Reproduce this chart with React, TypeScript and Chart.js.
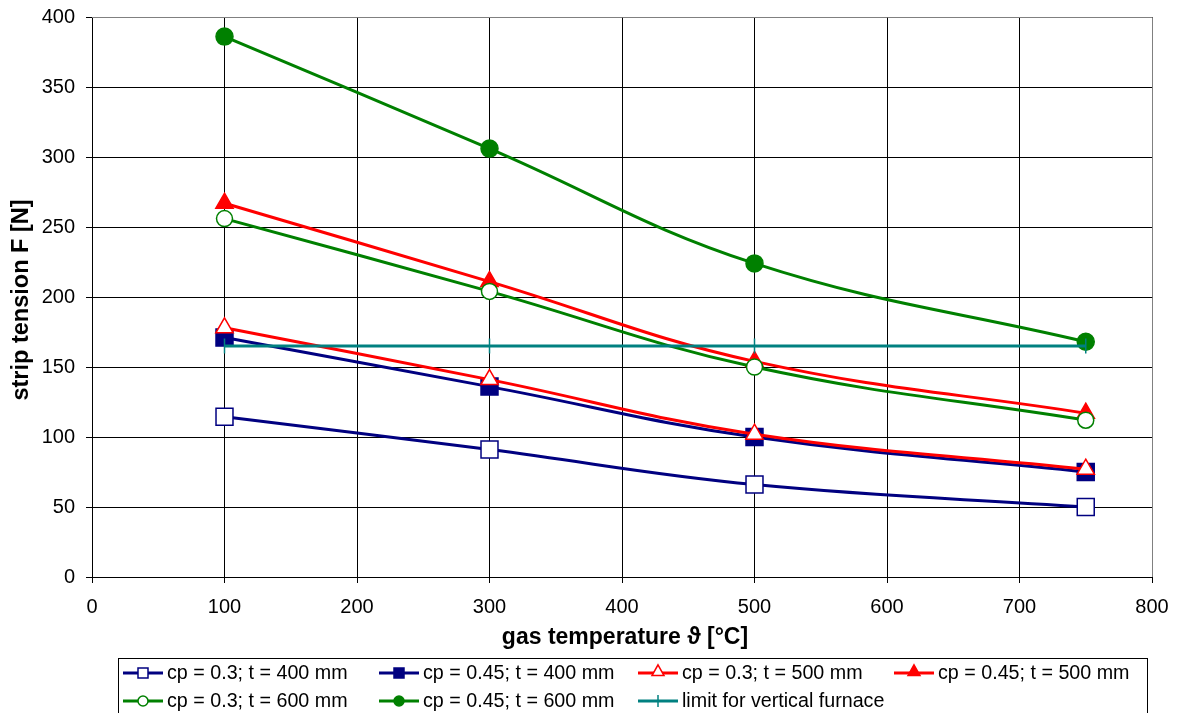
import React, { useEffect, useRef } from "react";
import { Chart, registerables } from "chart.js";
Chart.register(...registerables);

const temperatures = [100, 300, 500, 750];
const cp03t400 = [114.5, 91, 66, 50];
const cp045t400 = [171, 136, 100, 75];
const cp03t500 = [178, 141, 102, 77];
const cp045t500 = [267, 211, 154, 117];
const cp03t600 = [256, 204, 150, 112];
const cp045t600 = [386, 306, 224, 168];
const limitY = [165, 165, 165, 165];
const seriesLabels = [
  "cp = 0.3; t = 400 mm",
  "cp = 0.45; t = 400 mm",
  "cp = 0.3; t = 500 mm",
  "cp = 0.45; t = 500 mm",
  "cp = 0.3; t = 600 mm",
  "cp = 0.45; t = 600 mm",
  "limit for vertical furnace",
];
const xTitle = "gas temperature ϑ [°C]";
const yTitle = "strip tension F [N]";

const NAVY = "#000080";
const RED = "#FF0000";
const GREEN = "#008000";
const TEAL = "#008080";
const FONT = "'Liberation Sans', Arial, sans-serif";

type Sty = { color: string; shape: string; filled: boolean; r: number };
const styles: Sty[] = [
  { color: NAVY, shape: "rect", filled: false, r: 12 },
  { color: NAVY, shape: "rect", filled: true, r: 12 },
  { color: RED, shape: "triangle", filled: false, r: 10 },
  { color: RED, shape: "triangle", filled: true, r: 10 },
  { color: GREEN, shape: "circle", filled: false, r: 8 },
  { color: GREEN, shape: "circle", filled: true, r: 8.5 },
  { color: TEAL, shape: "cross", filled: false, r: 7.5 },
];

function drawMarker(ctx: CanvasRenderingContext2D, s: Sty, x: number, y: number, size: number) {
  ctx.save();
  ctx.strokeStyle = s.color;
  ctx.fillStyle = s.filled ? s.color : "#ffffff";
  ctx.lineWidth = 1.5;
  ctx.beginPath();
  if (s.shape === "rect") {
    ctx.rect(x - size, y - size, size * 2, size * 2);
    ctx.fill();
    ctx.stroke();
  } else if (s.shape === "triangle") {
    ctx.moveTo(x, y - size * 1.2);
    ctx.lineTo(x + size, y + size * 0.6);
    ctx.lineTo(x - size, y + size * 0.6);
    ctx.closePath();
    ctx.fill();
    ctx.stroke();
  } else if (s.shape === "circle") {
    ctx.arc(x, y, size, 0, Math.PI * 2);
    ctx.fill();
    ctx.stroke();
  } else {
    ctx.moveTo(x, y - size);
    ctx.lineTo(x, y + size);
    ctx.stroke();
  }
  ctx.restore();
}

const customPlugin = {
  id: "custom",
  beforeDatasetsDraw(chart: any) {
    const { ctx, chartArea } = chart;
    ctx.save();
    ctx.strokeStyle = "#808080";
    ctx.lineWidth = 1;
    ctx.beginPath();
    ctx.moveTo(chartArea.left, chartArea.top + 0.5);
    ctx.lineTo(chartArea.right + 0.5, chartArea.top + 0.5);
    ctx.lineTo(chartArea.right + 0.5, chartArea.bottom);
    ctx.stroke();
    ctx.restore();
  },
  afterDraw(chart: any) {
    const { ctx } = chart;
    ctx.save();
    ctx.fillStyle = "#000";
    ctx.font = `bold 23px ${FONT}`;
    ctx.textAlign = "center";
    ctx.textBaseline = "middle";
    ctx.fillText(xTitle, 625, 638);
    ctx.save();
    ctx.translate(22, 300);
    ctx.rotate(-Math.PI / 2);
    ctx.font = `bold 23.5px ${FONT}`;
    ctx.fillText(yTitle, 0, 0);
    ctx.restore();

    // legend
    ctx.strokeStyle = "#000";
    ctx.lineWidth = 1;
    ctx.strokeRect(118.5, 658.5, 1029, 70);
    const textX = [167, 423, 682, 938];
    const rowY = [673, 701];
    ctx.font = `19.7px ${FONT}`;
    ctx.textAlign = "left";
    seriesLabels.forEach((lab, i) => {
      const col = i % 4;
      const row = Math.floor(i / 4);
      const tx = textX[col];
      const y = rowY[row];
      const s = styles[i];
      ctx.strokeStyle = s.color;
      ctx.lineWidth = 3;
      ctx.beginPath();
      ctx.moveTo(tx - 44, y);
      ctx.lineTo(tx - 4, y);
      ctx.stroke();
      const mx = tx - 24;
      if (s.shape === "rect") drawMarker(ctx, s, mx, y, 5);
      else if (s.shape === "triangle") drawMarker(ctx, s, mx, y - 1, 6);
      else if (s.shape === "circle") drawMarker(ctx, s, mx, y, 5);
      else drawMarker(ctx, s, mx, y, 6);
      ctx.fillStyle = "#000";
      ctx.fillText(lab, tx, y + 1);
    });
    ctx.restore();
  },
};

export default function App() {
  const ref = useRef<HTMLCanvasElement | null>(null);
  useEffect(() => {
    if (!ref.current) return;
    const seriesData = [cp03t400, cp045t400, cp03t500, cp045t500, cp03t600, cp045t600];
    const datasets: any[] = seriesData.map((vals, i) => {
      const s = styles[i];
      return {
        label: seriesLabels[i],
        data: temperatures.map((t, j) => ({ x: t, y: vals[j] })),
        borderColor: s.color,
        backgroundColor: s.filled ? s.color : "#ffffff",
        borderWidth: 3,
        pointStyle: s.shape,
        pointRadius: s.r,
        pointBorderWidth: 1.5,
        pointBorderColor: s.color,
        pointBackgroundColor: s.filled ? s.color : "#ffffff",
        tension: 0.4,
        order: 10 - i,
      };
    });
    datasets.push({
      label: seriesLabels[6],
      data: temperatures.map((x, j) => ({ x, y: limitY[j] })),
      borderColor: TEAL,
      backgroundColor: TEAL,
      borderWidth: 3,
      pointStyle: "line",
      pointRotation: 90,
      pointRadius: 7.5,
      pointBorderWidth: 1.5,
      pointBorderColor: TEAL,
      tension: 0,
      order: 1,
    });
    const chart = new Chart(ref.current, {
      type: "line",
      data: { datasets },
      plugins: [customPlugin],
      options: {
        animation: false,
        responsive: false,
        devicePixelRatio: 1,
        layout: { padding: { left: 0, right: 25, top: 17, bottom: 0 } },
        plugins: { legend: { display: false }, tooltip: { enabled: false } },
        scales: {
          x: {
            type: "linear",
            min: 0,
            max: 800,
            ticks: { stepSize: 100, color: "#000", font: { family: FONT, size: 20 }, padding: 12 },
            grid: { color: "#000", lineWidth: 1, tickLength: 6, tickColor: "#000" },
            border: { color: "#000", width: 1 },
            afterFit: (s: any) => {
              s.height = 136;
              s.paddingLeft = 0;
              s.paddingRight = 0;
            },
          },
          y: {
            type: "linear",
            min: 0,
            max: 400,
            ticks: { stepSize: 50, color: "#000", font: { family: FONT, size: 20 }, padding: 11 },
            grid: { color: "#000", lineWidth: 1, tickLength: 6, tickColor: "#000" },
            border: { color: "#000", width: 1 },
            afterFit: (s: any) => {
              s.width = 92;
              s.paddingTop = 0;
              s.paddingBottom = 0;
            },
          },
        },
      } as any,
    });
    return () => chart.destroy();
  }, []);
  return (
    <div style={{ position: "absolute", left: 0, top: 0, width: 1177, height: 713, background: "#fff" }}>
      <canvas ref={ref} width={1177} height={713} style={{ width: 1177, height: 713 }} />
    </div>
  );
}
